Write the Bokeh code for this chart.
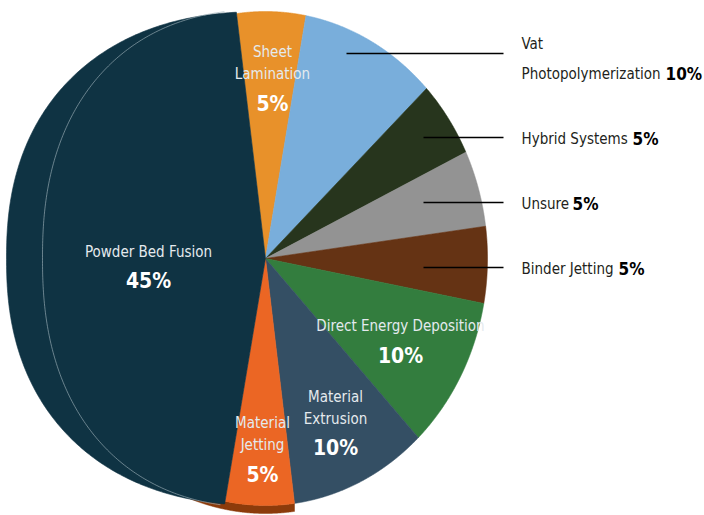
import numpy as np
from bokeh.plotting import figure
from bokeh.models import Range1d
from bokeh.core.properties import value
from bokeh.embed import file_html
from bokeh.resources import INLINE

# ---------------- data ----------------
categories = ["Sheet Lamination", "Vat Photopolymerization", "Hybrid Systems", "Unsure",
              "Binder Jetting", "Direct Energy Deposition", "Material Extrusion",
              "Material Jetting", "Powder Bed Fusion"]
shares = [5, 10, 5, 5, 5, 10, 10, 5, 45]
colors = ["#e8912a", "#79aedb", "#27351d", "#939393", "#653314",
          "#337d3e", "#344f64", "#eb6624", "#0f3343"]
pct_labels = [f"{v}%" for v in shares]

# ---------------- geometry ----------------
CX, CY, RX, RY = 265, 258, 222, 247
START = -7.5
FONT = value("DejaVu Sans Condensed, Roboto Condensed, Roboto")

fr = np.array(shares) / sum(shares)
ends = START + 360 * np.cumsum(fr)
starts = ends - 360 * fr


def arc(t0, t1, a=RX, b=RY, n=2.0, num=240):
    t = np.radians(np.linspace(t0, t1, num))
    dx, dy = RX * np.sin(t), -RY * np.cos(t)
    k = (np.abs(dx / a) ** n + np.abs(dy / b) ** n) ** (-1.0 / n)
    return CX + k * dx, CY + k * dy


p = figure(width=704, height=515, x_range=Range1d(0, 704), y_range=Range1d(515, 0),
           output_backend="svg", toolbar_location=None, min_border=0)
p.axis.visible = False
p.grid.visible = False
p.outline_line_color = None
p.background_fill_color = "white"
p.border_fill_color = "white"

# 3D side sliver under Material Jetting
i_mj = categories.index("Material Jetting")
sx, sy = arc(starts[i_mj], ends[i_mj] + 14)
p.patch(np.concatenate([sx, sx[::-1]]), np.concatenate([sy + 8, sy[::-1]]),
        fill_color="#8c3b0b", line_color="#8c3b0b", line_width=0.5)

# slices
xs_list, ys_list = [], []
for i, cat in enumerate(categories):
    if cat == "Powder Bed Fusion":
        ax, ay = arc(starts[i], ends[i], a=259, b=247, n=2.3)
    else:
        ax, ay = arc(starts[i], ends[i])
    xs_list.append(np.concatenate([[CX], ax, [CX]]))
    ys_list.append(np.concatenate([[CY], ay, [CY]]))
p.patches(xs_list, ys_list, fill_color=colors, line_color=colors, line_width=0.6)

# thin inner rim line on Powder Bed Fusion
i_pbf = categories.index("Powder Bed Fusion")
rx_, ry_ = arc(starts[i_pbf] + 1, ends[i_pbf] - 3, a=223, b=249, n=2.3)
p.line(rx_, ry_, line_color="#9fb2ba", line_width=0.8, line_alpha=0.8)

# ---------------- in-slice labels ----------------
LIGHT = "#e4eaee"


def inner_label(cat, lines, x, ys, pct_y, pct_size="21px", name_size="15px"):
    i = categories.index(cat)
    for ln, yy in zip(lines, ys):
        p.text([x], [yy], text=[ln], text_font=FONT, text_font_size=name_size,
               text_align="center", text_baseline="middle", text_color=LIGHT)
    p.text([x], [pct_y], text=[pct_labels[i]], text_font=FONT, text_font_style="bold",
           text_font_size=pct_size, text_align="center", text_baseline="middle",
           text_color="white")


inner_label("Sheet Lamination", ["Sheet", "Lamination"], 272, [51, 73], 103)
inner_label("Powder Bed Fusion", ["Powder Bed Fusion"], 148, [251], 280)
inner_label("Material Jetting", ["Material", "Jetting"], 262, [422, 444], 474)
inner_label("Material Extrusion", ["Material", "Extrusion"], 335, [396, 418], 447)
inner_label("Direct Energy Deposition", ["Direct Energy Deposition"], 400, [325], 355)

# ---------------- outside labels with leader lines ----------------
outside = ["Vat Photopolymerization", "Hybrid Systems", "Unsure", "Binder Jetting"]
lead_x0 = [346, 423, 423, 423]
lead_y = [53, 137, 202, 267]
p.segment(x0=lead_x0, y0=lead_y, x1=[503] * 4, y1=lead_y, line_color="black", line_width=1.3)

name_lines = {"Vat Photopolymerization": (["Vat", "Photopolymerization"], [43, 73]),
              "Hybrid Systems": (["Hybrid Systems"], [138]),
              "Unsure": (["Unsure"], [203]),
              "Binder Jetting": (["Binder Jetting"], [268])}
bold_x = {"Vat Photopolymerization": 665, "Hybrid Systems": 632,
          "Unsure": 572, "Binder Jetting": 618}
for cat in outside:
    lines, ys = name_lines[cat]
    for ln, yy in zip(lines, ys):
        p.text([521], [yy], text=[ln], text_font=FONT, text_font_size="15px",
               text_align="left", text_baseline="middle", text_color="#231f20")
    i = categories.index(cat)
    p.text([bold_x[cat]], [ys[-1]], text=[pct_labels[i]], text_font=FONT,
           text_font_style="bold", text_font_size="17px", text_align="left",
           text_baseline="middle", text_color="black")

open("out.html", "w").write(file_html(p, INLINE))
